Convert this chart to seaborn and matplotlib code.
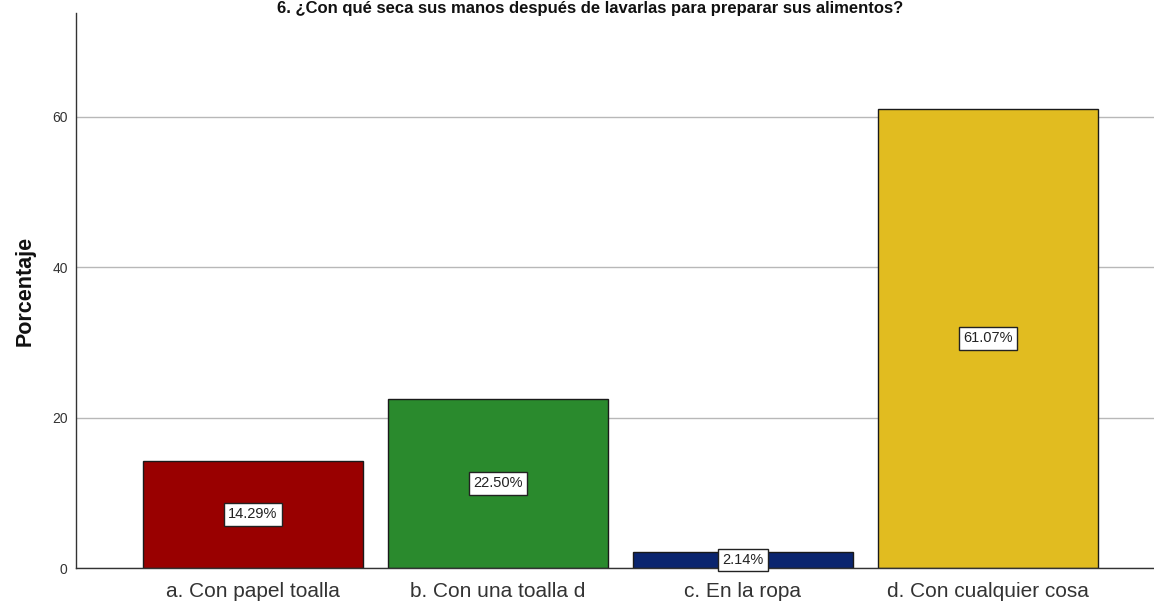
import matplotlib
matplotlib.use("Agg")
import matplotlib.pyplot as plt
import seaborn as sns
import pandas as pd

categories = ["a. Con papel toalla", "b. Con una toalla d", "c. En la ropa", "d. Con cualquier cosa"]
percentages = [14.29, 22.50, 2.14, 61.07]
bar_colors = ["#990000", "#2a8a2d", "#0b256f", "#e1bc20"]
y_ticks = [0, 20, 40, 60]
title = "6. ¿Con qué seca sus manos después de lavarlas para preparar sus alimentos?"

sns.set_theme(style="white")
plt.rcParams["font.family"] = ["Liberation Sans", "DejaVu Sans"]

df = pd.DataFrame({"cat": categories, "pct": percentages})

fig = plt.figure(figsize=(11.54, 6.01), dpi=100)
ax = fig.add_axes([76 / 1154, 1 - 568 / 601, 1 - 76 / 1154, (568 - 13) / 601])

sns.barplot(data=df, x="cat", y="pct", hue="cat", palette=bar_colors,
            order=categories, hue_order=categories, legend=False,
            width=0.9, edgecolor="#1a1a1a", linewidth=1, saturation=1, ax=ax)

ax.set_xlim(-0.722, 3.678)
ax.set_ylim(0, 73.8)
ax.set_yticks(y_ticks)
ax.set_yticklabels([str(t) for t in y_ticks], fontsize=10, color="#333333")
ax.tick_params(axis="x", labelsize=15, labelcolor="#333333", length=0, pad=10)
ax.tick_params(axis="y", length=0, pad=6)
ax.yaxis.grid(True, color="#b8b8b8", linewidth=1)
ax.set_axisbelow(True)
ax.set_xlabel("")
ax.set_ylabel("Porcentaje", fontsize=15.5, fontweight="bold", color="#111111", labelpad=12)
for side in ["top", "right"]:
    ax.spines[side].set_visible(False)
for side in ["left", "bottom"]:
    ax.spines[side].set_color("#333333")
    ax.spines[side].set_linewidth(1)

for i, v in enumerate(percentages):
    ax.text(i, v / 2, f"{v:.2f}%", ha="center", va="center", fontsize=10.5, color="#222222",
            bbox=dict(boxstyle="square,pad=0.3", facecolor="white", edgecolor="#222222", linewidth=1))

fig.text(590 / 1154, 1 - 1 / 601, title, ha="center", va="top",
         fontsize=12, fontweight="bold", color="#111111")

fig.savefig("out.png", dpi=100)
